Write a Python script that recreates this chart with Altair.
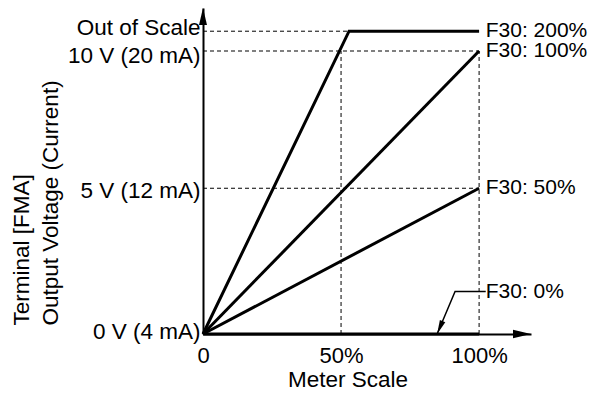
import altair as alt
import pandas as pd

FONT = "Liberation Sans"

# axis extents (arrow tips)
X_MAX = 118.8
Y_MAX = 11.52

x_tick_values = [0, 50, 100]
x_tick_labels = ["0", "50%", "100%"]
y_tick_values = [0, 5.15, 10, 10.7]
y_tick_labels = ["0 V (4 mA)", "5 V (12 mA)", "10 V (20 mA)", "Out of Scale"]
y_label_shift = [-3, 2, 4, -4]

series_names = ["F30: 200%", "F30: 100%", "F30: 50%", "F30: 0%"]
series_x = [[0, 52.9, 100], [0, 100], [0, 100], [0, 100]]
series_y = [[0, 10.7, 10.7], [0, 10], [0, 5.15], [0, 0]]

label_x = [102.4, 102.4, 102.4, 102.4]
label_y = [10.7, 10.0, 5.15, 1.5]

guide_x1 = [0, 0, 0, 50, 100]
guide_y1 = [10.7, 10, 5.15, 0, 0]
guide_x2 = [52.9, 100, 100, 50, 100]
guide_y2 = [10.7, 10, 5.15, 10, 10]

leader_x = [102.4, 91.3, 84.8]
leader_y = [1.5, 1.5, 0]


def label_expr(vals, labs):
    expr = "''"
    for v, l in reversed(list(zip(vals, labs))):
        expr = f"datum.value == {v} ? '{l}' : {expr}"
    return expr


rows = []
for name, xs, ys in zip(series_names, series_x, series_y):
    for i, (xv, yv) in enumerate(zip(xs, ys)):
        rows.append({"series": name, "x": xv, "y": yv, "o": i})
lines_df = pd.DataFrame(rows)
labels_df = pd.DataFrame({"label": series_names, "x": label_x, "y": label_y})
guides_df = pd.DataFrame({"x": guide_x1, "y": guide_y1, "x2": guide_x2, "y2": guide_y2})
leader_df = pd.DataFrame({"x": leader_x, "y": leader_y, "o": list(range(len(leader_x)))})

x_enc = alt.X(
    "x:Q",
    scale=alt.Scale(domain=[0, X_MAX], nice=False, zero=False),
    axis=alt.Axis(
        values=x_tick_values,
        labelExpr=label_expr(x_tick_values, x_tick_labels),
        ticks=False, tickSize=0, grid=False,
        domainColor="black", domainWidth=2,
        labelFont=FONT, labelFontSize=22, labelColor="black",
        labelPadding=11, labelFlush=False, labelOverlap=False,
        title="Meter Scale", titleFont=FONT, titleFontSize=22.5,
        titleFontWeight="normal", titleColor="black",
        titleX=144.5, titleY=52, titleAlign="center", titleBaseline="alphabetic",
    ),
)

y_offset_cond = {
    "condition": [
        {"test": f"datum.value == {v}", "value": s}
        for v, s in zip(y_tick_values, y_label_shift)
    ],
    "value": 0,
}

y_enc = alt.Y(
    "y:Q",
    scale=alt.Scale(domain=[0, Y_MAX], nice=False, zero=False),
    axis=alt.Axis(
        values=y_tick_values,
        labelExpr=label_expr(y_tick_values, y_tick_labels),
        ticks=False, tickSize=0, grid=False,
        domainColor="black", domainWidth=2,
        labelFont=FONT, labelFontSize=22.5, labelColor="black",
        labelPadding=3, labelOverlap=False, labelOffset=y_offset_cond,
        title=["Terminal [FMA]", "Output Voltage (Current)"],
        titleFont=FONT, titleFontSize=22.5, titleFontWeight="normal",
        titleColor="black", titleAngle=270, titleAlign="left",
        titleBaseline="alphabetic", titleLineHeight=29,
        titleX=-175, titleY=317,
    ),
)

guides = alt.Chart(guides_df).mark_rule(
    color="black", strokeWidth=1, strokeDash=[4, 3]
).encode(x=x_enc, y=y_enc, x2="x2:Q", y2="y2:Q")

lines = alt.Chart(lines_df).mark_line(
    color="black", strokeWidth=3, strokeJoin="miter"
).encode(x=x_enc, y=y_enc, detail="series:N", order="o:Q")

labels = alt.Chart(labels_df).mark_text(
    align="left", baseline="middle", font=FONT, fontSize=21, color="black"
).encode(x=x_enc, y=y_enc, text="label:N")

leader = alt.Chart(leader_df).mark_line(
    color="black", strokeWidth=1.5
).encode(x=x_enc, y=y_enc, order="o:Q")

leader_head = alt.Chart(pd.DataFrame({"x": [leader_x[-1]], "y": [leader_y[-1]]})).mark_point(
    shape="M0,0L0.42,-2L-0.42,-2Z", size=196, filled=True, opacity=1,
    color="black", strokeWidth=0, angle=23
).encode(x=x_enc, y=y_enc)

y_arrow = alt.Chart(pd.DataFrame({"x": [0], "y": [Y_MAX]})).mark_point(
    shape="M0,0L0.47,2L-0.47,2Z", size=289, filled=True, opacity=1,
    color="black", strokeWidth=0
).encode(x=x_enc, y=y_enc)

x_arrow = alt.Chart(pd.DataFrame({"x": [X_MAX], "y": [0]})).mark_point(
    shape="M0,0L-2,-0.47L-2,0.47Z", size=324, filled=True, opacity=1,
    color="black", strokeWidth=0
).encode(x=x_enc, y=y_enc)

chart = alt.layer(
    guides, lines, labels, leader, leader_head, y_arrow, x_arrow
).properties(
    width=328,
    height=326,
    autosize=alt.AutoSizeParams(type="none"),
    padding={"left": 195, "top": 0, "right": 57, "bottom": 56},
    background="white",
).configure_view(stroke=None)

chart.save("out.html", embed_options={"renderer": "svg", "actions": False})
